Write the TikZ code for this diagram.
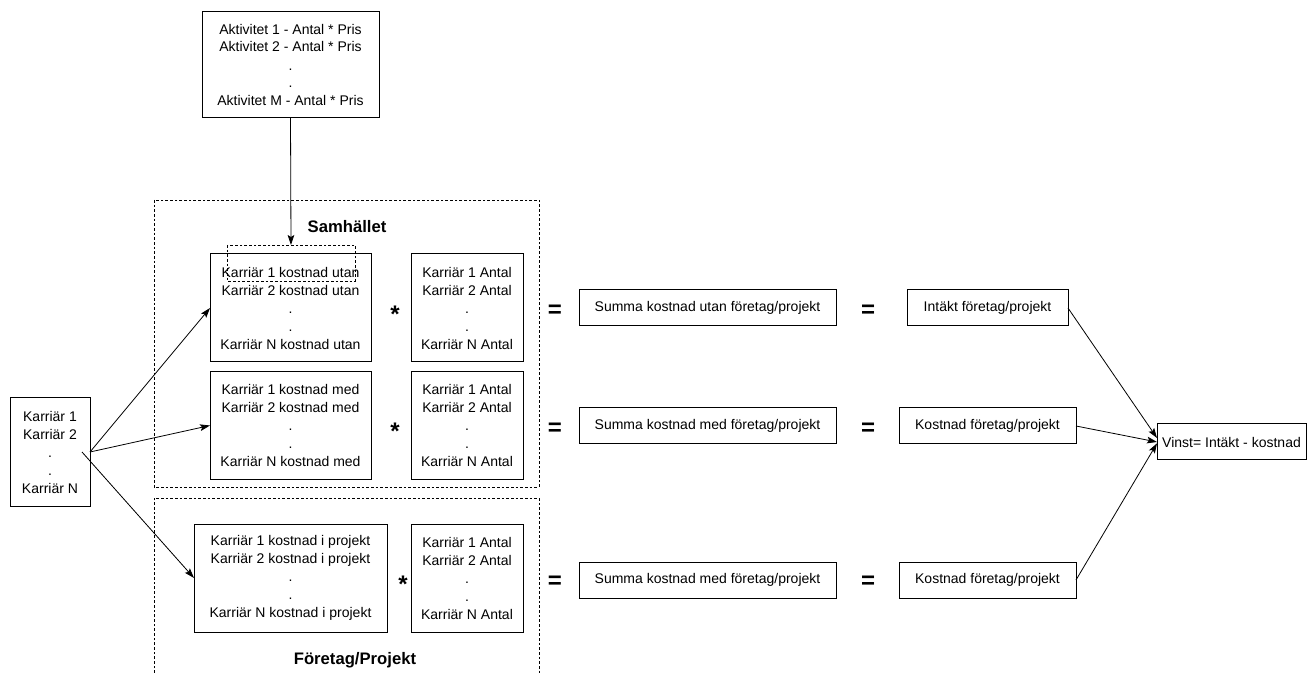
\documentclass[tikz,border=0pt]{standalone}
\usepackage{fontspec}
\setmainfont{Liberation Sans}
\usetikzlibrary{arrows.meta}
\begin{document}
\begin{tikzpicture}[x=0.75pt,y=-0.75pt,
  every node/.style={inner sep=0pt,outer sep=0pt},
  box/.style={draw,line width=0.75pt,align=center,
    font=\fontsize{10.5}{13.5}\selectfont},
  tallbox/.style={box,minimum height=81pt},
  flatbox/.style={box,minimum height=27pt},
  region/.style={line width=0.6pt,dash pattern=on 2pt off 1.5pt},
  title/.style={font=\fontsize{12.5}{14}\selectfont\bfseries},
  op/.style={font=\fontsize{18}{18}\selectfont\bfseries},
  link/.style={line width=0.6pt,-{Stealth[length=7.5pt,width=5pt,inset=1.5pt]}}]
\useasboundingbox (0,0) rectangle (1307,673);

% activity list on top
\node[box,minimum width=132.75pt,minimum height=79.5pt] (akt) at (290.5,65)
  {Aktivitet 1 - Antal * Pris\\Aktivitet 2 - Antal * Pris\\.\\.\\Aktivitet M - Antal * Pris};

% the two dashed regions
\draw[region] (154,200) rectangle (539,487);
\draw[region] (154,673) -- (154,498) -- (539,498) -- (539,673);
\node[title] (samh) at (347,227) {Samhället};
\node[title] (foret) at (355,660) {Företag/Projekt};

% careers
\node[tallbox,minimum width=60pt] (karr) at (50,452) {Karriär 1\\Karriär 2\\.\\.\\Karriär N};

% cost matrices and counts
\node[tallbox,minimum width=120.75pt] (utan) at (290.5,308)
  {Karriär 1 kostnad utan\\Karriär 2 kostnad utan\\.\\.\\Karriär N kostnad utan};
\node[tallbox,minimum width=84pt] (ant1) at (467,308)
  {Karriär 1 Antal\\Karriär 2 Antal\\.\\.\\Karriär N Antal};
\node[tallbox,minimum width=120.75pt] (med) at (290.5,425.5)
  {Karriär 1 kostnad med\\Karriär 2 kostnad med\\.\\.\\Karriär N kostnad med};
\node[tallbox,minimum width=84pt] (ant2) at (467,425.5)
  {Karriär 1 Antal\\Karriär 2 Antal\\.\\.\\Karriär N Antal};
\node[tallbox,minimum width=144.75pt] (proj) at (290.5,578)
  {Karriär 1 kostnad i projekt\\Karriär 2 kostnad i projekt\\.\\.\\Karriär N kostnad i projekt};
\node[tallbox,minimum width=84pt] (ant3) at (467,578)
  {Karriär 1 Antal\\Karriär 2 Antal\\.\\.\\Karriär N Antal};

% dashed marker on the first row
\draw[region] (227,245) rectangle (355,281);
\coordinate (mark) at (291,245);

% multiplication signs
\node[op] (mul1) at (395,314) {*};
\node[op] (mul2) at (395,431) {*};
\node[op] (mul3) at (403,584) {*};

% sums
\node[flatbox,minimum width=192.75pt] (sum1) at (707.5,308) {Summa kostnad utan företag/projekt};
\node[flatbox,minimum width=192.75pt] (sum2) at (707.5,426) {Summa kostnad med företag/projekt};
\node[flatbox,minimum width=192.75pt] (sum3) at (707.5,580) {Summa kostnad med företag/projekt};

% equals signs
\node[op] (eq1a) at (555,311) {=};
\node[op] (eq2a) at (555,429) {=};
\node[op] (eq3a) at (555,582) {=};
\node[op] (eq1b) at (868,311) {=};
\node[op] (eq2b) at (868,429) {=};
\node[op] (eq3b) at (868,582) {=};

% revenue and costs
\node[flatbox,minimum width=120.75pt] (int) at (987.5,308) {Intäkt företag/projekt};
\node[flatbox,minimum width=132.75pt] (kost2) at (987.5,426) {Kostnad företag/projekt};
\node[flatbox,minimum width=132.75pt] (kost3) at (987.5,580) {Kostnad företag/projekt};

% profit
\node[flatbox,minimum width=111.75pt] (vinst) at (1231.5,442) {Vinst= Intäkt - kostnad};

% connectors
\draw[link] (akt.south) -- (mark);
\coordinate (kstart) at (82,452);
\draw[link] (karr.east) -- (utan.west);
\draw[link] (karr.east) -- (med.west);
\draw[link] (kstart) -- (proj.west);
\draw[link] (int.east) -- ([yshift=3pt]vinst.west);
\draw[link] (kost2.east) -- (vinst.west);
\draw[link] (kost3.east) -- ([yshift=-1pt]vinst.west);
\end{tikzpicture}
\end{document}
